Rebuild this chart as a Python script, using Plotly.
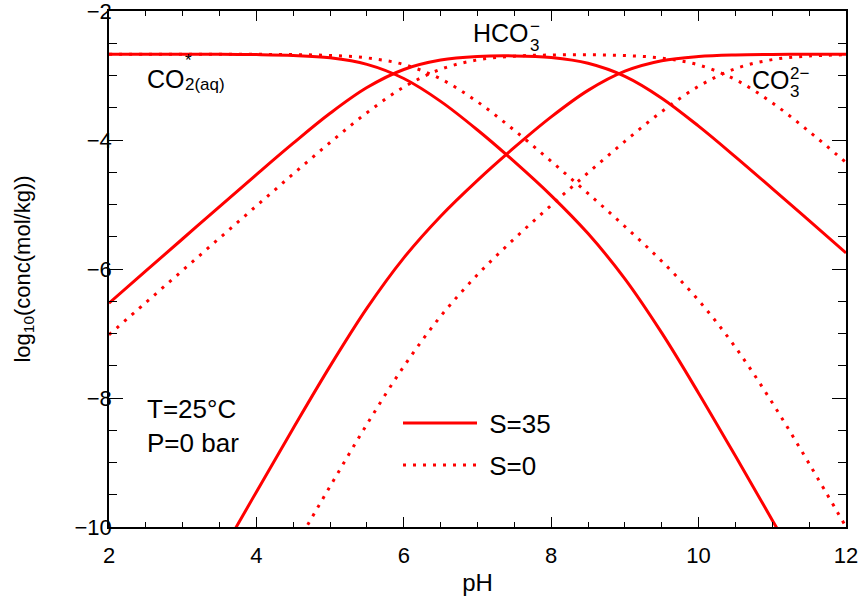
import plotly.graph_objects as go

ph = [2.0, 2.5, 3.0, 3.5, 4.0, 4.5, 5.0, 5.5, 6.0, 6.5, 7.0,
      7.5, 8.0, 8.5, 9.0, 9.5, 10.0, 10.5, 11.0, 11.5, 12.0]

# S = 35
co2_s35 = [-2.670, -2.670, -2.671, -2.672, -2.676, -2.689, -2.726, -2.827, -3.047, -3.401, -3.845,
           -4.336, -4.862, -5.451, -6.153, -6.991, -7.925, -8.901, -9.894, -10.891, -11.890]
hco3_s35 = [-6.530, -6.030, -5.531, -5.032, -4.536, -4.049, -3.586, -3.187, -2.907, -2.761, -2.705,
            -2.696, -2.722, -2.811, -3.013, -3.351, -3.785, -4.261, -4.754, -5.251, -5.750]
co3_s35 = [-13.450, -12.450, -11.451, -10.452, -9.456, -8.469, -7.506, -6.607, -5.827, -5.181, -4.625,
           -4.116, -3.642, -3.231, -2.933, -2.771, -2.705, -2.681, -2.674, -2.671, -2.670]

# S = 0
co2_s0 = [-2.670, -2.670, -2.670, -2.671, -2.672, -2.676, -2.689, -2.727, -2.830, -3.053, -3.408,
          -3.850, -4.332, -4.829, -5.341, -5.880, -6.487, -7.214, -8.074, -9.018, -9.999]
hco3_s0 = [-7.020, -6.520, -6.020, -5.521, -5.022, -4.526, -4.039, -3.577, -3.180, -2.903, -2.758,
           -2.700, -2.682, -2.679, -2.691, -2.730, -2.837, -3.064, -3.424, -3.868, -4.349]
co3_s0 = [-15.350, -14.350, -13.350, -12.351, -11.352, -10.356, -9.369, -8.407, -7.510, -6.733, -6.088,
          -5.530, -5.012, -4.509, -4.021, -3.560, -3.167, -2.894, -2.754, -2.698, -2.679]

x_ticks = [2, 4, 6, 8, 10, 12]
y_ticks = [-10, -8, -6, -4, -2]

RED = "#ff0000"
FONT = "Liberation Sans, Arial, Helvetica, sans-serif"
DOT = "3px,7px"

fig = go.Figure()

def add(y, dash, name=None, legend=None):
    fig.add_trace(go.Scatter(
        x=ph, y=y, mode="lines",
        line=dict(color=RED, width=3, dash=dash, shape="spline", smoothing=1.0),
        name=name or "", showlegend=name is not None,
        legend=legend or "legend", hoverinfo="skip"))

add(co2_s0, DOT)
add(hco3_s0, DOT, "\u00a0S=0", "legend2")
add(co3_s0, DOT)
add(co2_s35, "solid")
add(hco3_s35, "solid", "\u00a0S=35", "legend")
add(co3_s35, "solid")

# helper: pixel -> data
L, R, T, B = 109, 846, 11, 527
def dx(px):
    return 2 + (px - L) / (R - L) * 10
def dy(py):
    return -2 - (py - T) / (B - T) * 8

def txt(text, px, py, size, anchor="left"):
    fig.add_annotation(x=dx(px), y=dy(py), xref="x", yref="y", text=text,
                       showarrow=False, xanchor=anchor, yanchor="middle",
                       font=dict(family=FONT, size=size, color="black"))

MAIN, SMALL = 25, 17
# CO2*(aq)
txt("CO", 145, 79, MAIN)
txt("*", 183, 60, SMALL)
txt("2(aq)", 183, 84, SMALL)
# HCO3-
txt("HCO", 471, 33, MAIN)
txt("3", 528, 45, SMALL)
txt("\u2212", 528, 26, SMALL)
# CO3 2-
txt("CO", 750, 80, MAIN)
txt("2\u2212", 788, 73, SMALL)
txt("3", 788, 91, SMALL)
# conditions
txt("T=25\u00b0C", 145, 409, 26)
txt("P=0 bar", 145, 443, 26)

axis_common = dict(showline=True, linecolor="black", linewidth=1.5, mirror="allticks",
                   ticks="inside", tickcolor="black", tickwidth=1.2,
                   showgrid=False, zeroline=False, automargin=False,
                   ticklabeloverflow="allow",
                   tickfont=dict(family=FONT, size=22, color="black"))

fig.update_xaxes(range=[2, 12], tickvals=x_ticks, ticklen=10, ticklabelstandoff=8,
                 minor=dict(ticks="inside", dtick=0.5, ticklen=5, tickcolor="black", tickwidth=1.2),
                 title=dict(text="pH", font=dict(family=FONT, size=24, color="black"), standoff=7),
                 **axis_common)
fig.update_yaxes(range=[-10, -2], tickvals=y_ticks, ticklen=14, ticklabelstandoff=-9,
                 minor=dict(ticks="inside", dtick=0.5, ticklen=8, tickcolor="black", tickwidth=1.2),
                 title=dict(text="log<sub>10</sub>(conc(mol/kg))", font=dict(family=FONT, size=22, color="black"), standoff=38),
                 **axis_common)

leg = dict(bgcolor="rgba(0,0,0,0)", borderwidth=0, itemwidth=74,
           font=dict(family=FONT, size=26, color="black"),
           xanchor="left", yanchor="middle")
fig.update_layout(
    width=864, height=601,
    margin=dict(l=L, r=864 - R, t=T, b=601 - B),
    plot_bgcolor="white", paper_bgcolor="white",
    legend=dict(x=(398 - L) / (R - L), y=1 - (423 - T) / (B - T), **leg),
    legend2=dict(x=(398 - L) / (R - L), y=1 - (465 - T) / (B - T), **leg),
)

fig.write_html("out.html", config={"displayModeBar": False},
               post_script="document.body.style.margin='0px';document.body.style.padding='0px';")
